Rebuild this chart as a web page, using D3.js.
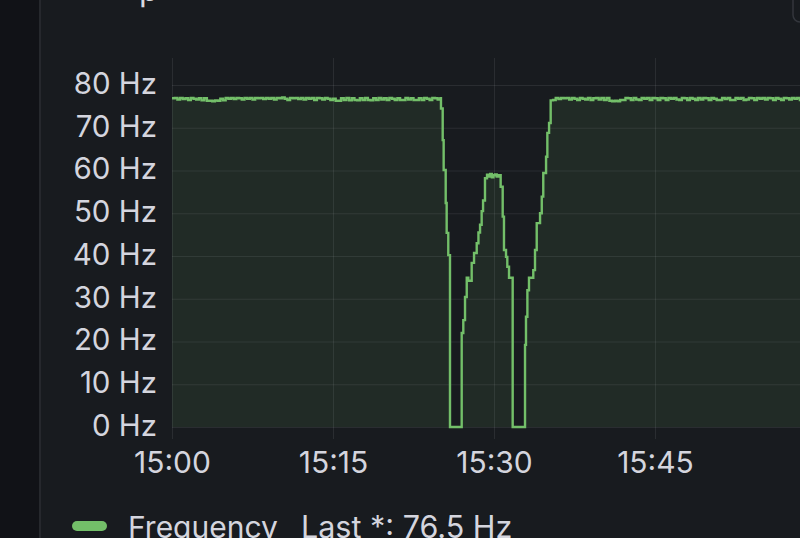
<!DOCTYPE html>
<html>
<head>
    <title>Frequency</title>
    <style>
        body { margin: 0; background: #181b1f; overflow: hidden; }
        text { font-family: Inter, "Open Sans", sans-serif; }
    </style>
    <script src="https://d3js.org/d3.v7.min.js"></script>
</head>
<body>
    <div id="chart"></div>

    <script>
        // minutes after 15:00, one sample every 15 s
        var leftStart = 0, sampleStep = 0.25;
        var leftValues = [
            76.9, 77.0, 76.6, 77.0, 76.7, 76.9, 76.5, 77.0, 76.8, 76.6,
            76.9, 76.4, 76.9, 76.3, 76.3, 76.2, 76.4, 76.3, 76.8, 76.4,
            77.0, 76.8, 77.0, 76.7, 77.0, 76.9, 76.6, 77.0, 76.8, 77.0,
            76.6, 77.0, 76.9, 77.0, 76.7, 77.0, 76.8, 77.0, 76.6, 77.0,
            76.9, 77.1, 76.8, 76.5, 77.0, 76.9, 77.0, 76.7, 77.0, 76.6,
            77.0, 76.8, 77.0, 76.5, 77.0, 76.9, 76.6, 77.0, 76.8, 76.5,
            76.8, 76.3, 76.3, 76.9, 76.5, 77.0, 76.4, 76.9, 76.5, 76.4,
            76.9, 76.5, 77.0, 76.5, 76.4, 76.9, 76.5, 77.0, 76.6, 76.9,
            76.5, 77.0, 76.8, 76.5, 76.9, 76.5, 76.5, 77.0, 76.6, 76.9,
            76.5, 76.5, 76.9, 76.5, 77.0, 76.8, 76.5, 77.0, 76.9, 76.6, 76.9
        ];

        // the ramp down / up section, irregular sample times (minutes after 15:00)
        var dipTimes = [
            25.06, 25.22, 25.31, 25.50, 25.59, 25.74, 25.90, 26.99, 27.14, 27.30,
            27.46, 27.61, 27.92, 28.14, 28.39, 28.55, 28.70, 28.85, 28.98, 29.16,
            29.35, 29.50, 29.65, 29.80, 29.95, 30.10, 30.25, 30.40, 30.62, 30.81,
            30.93, 31.12, 31.24, 31.40, 31.74, 32.89, 32.98, 33.11, 33.26, 33.66,
            33.82, 33.98, 34.29, 34.45, 34.59, 34.85, 34.97, 35.13, 35.28
        ];
        var dipValues = [
            74.5, 67.1, 60.1, 52.4, 45.4, 40.2, 0, 22.0, 25.0, 30.4,
            34.9, 34.2, 38.4, 40.7, 43.0, 45.5, 47.3, 50.5, 53.0, 58.2,
            59.0, 58.6, 59.2, 58.4, 58.9, 59.1, 58.6, 58.9, 56.2, 49.2,
            41.4, 39.8, 37.5, 34.9, 0, 19.2, 25.8, 32.0, 34.9, 36.7,
            41.4, 47.7, 50.0, 53.9, 59.4, 63.2, 68.8, 71.1, 76.4
        ];

        var rightStart = 35.5;
        var rightValues = [
            76.5, 77.0, 76.7, 77.0, 76.9, 77.0, 76.6, 77.0, 76.8, 76.5,
            77.0, 76.8, 76.6, 77.0, 76.5, 76.9, 77.0, 76.6, 77.0, 76.5,
            77.0, 76.3, 76.2, 76.3, 76.2, 76.5, 76.5, 77.0, 76.9, 76.5,
            77.0, 76.6, 76.5, 77.0, 76.8, 77.0, 76.5, 77.0, 76.9, 76.5,
            77.0, 76.9, 76.5, 77.0, 76.8, 77.0, 76.6, 76.5, 77.0, 76.9,
            76.5, 77.0, 76.8, 76.5, 77.0, 76.6, 77.0, 76.9, 76.5, 77.0,
            76.8, 76.5, 76.5, 77.0, 76.7, 77.0, 76.5, 76.5, 77.0, 76.8,
            77.0, 76.5, 76.6, 77.0, 76.9, 76.5, 77.0, 76.8, 77.0, 76.6,
            77.0, 76.9, 76.5, 77.0, 76.8, 76.5, 77.0, 76.9, 76.6, 77.0,
            76.8, 77.0, 76.5, 76.9
        ];

        var yTicks = [0, 10, 20, 30, 40, 50, 60, 70, 80];
        var xTickLabels = ['15:00', '15:15', '15:30', '15:45'];
        var legendName = 'Frequency';
        var legendCalc = 'Last *: 76.5 Hz';
        var titleText = 'p';

        var base = new Date(2024, 0, 1, 15, 0, 0);
        function at(min) { return new Date(base.getTime() + min * 60000); }

        var data = [];
        leftValues.forEach(function(v, i) { data.push({ t: at(leftStart + i * sampleStep), v: v }); });
        dipValues.forEach(function(v, i) { data.push({ t: at(dipTimes[i]), v: v }); });
        rightValues.forEach(function(v, i) { data.push({ t: at(rightStart + i * sampleStep), v: v }); });

        var W = 800, H = 538;
        var svg = d3.select('#chart').append('svg')
            .attr('width', W)
            .attr('height', H);

        // side strip + panel border
        svg.append('rect').attr('x', 0).attr('y', 0).attr('width', 39).attr('height', H).attr('fill', '#111217');
        svg.append('rect').attr('x', 39).attr('y', 0).attr('width', 2).attr('height', H).attr('fill', '#26282d');
        svg.append('rect').attr('x', 793).attr('y', -14).attr('width', 22).attr('height', 36).attr('rx', 7)
            .attr('fill', 'none').attr('stroke', '#33363c').attr('stroke-width', 1.5);

        // title, cut by the top edge
        svg.append('text').attr('x', 139).attr('y', 1).attr('font-size', 32)
            .attr('fill', '#d8d9e0').text(titleText);

        var plotTop = 58, plotBottom = 427;

        var x = d3.scaleTime()
            .domain([at(0), at(60)])
            .range([172, 816]);

        var y = d3.scaleLinear()
            .domain([0, 80])
            .range([427, 85]);

        var grid = 'rgba(204,204,220,0.1)';
        var fmt = d3.timeFormat('%H:%M');
        var xTicks = x.ticks(d3.timeMinute.every(15));
        var xLabelTicks = xTicks.filter(function(d) { return xTickLabels.indexOf(fmt(d)) >= 0; });

        // grid
        svg.append('g').selectAll('line.h')
            .data(yTicks).enter().append('line')
            .attr('x1', 172).attr('x2', W)
            .attr('y1', function(d) { return y(d) + 0.5; })
            .attr('y2', function(d) { return y(d) + 0.5; })
            .attr('stroke', grid);

        svg.append('g').selectAll('line.v')
            .data(xTicks).enter().append('line')
            .attr('x1', function(d) { return Math.round(x(d)) + 0.5; })
            .attr('x2', function(d) { return Math.round(x(d)) + 0.5; })
            .attr('y1', plotTop).attr('y2', plotBottom + 12)
            .attr('stroke', grid);

        // series
        var area = d3.area()
            .curve(d3.curveStepAfter)
            .x(function(d) { return x(d.t); })
            .y0(y(0))
            .y1(function(d) { return y(d.v); });

        var line = d3.line()
            .curve(d3.curveStepAfter)
            .x(function(d) { return x(d.t); })
            .y(function(d) { return y(d.v); });

        svg.append('path').datum(data)
            .attr('d', area)
            .attr('fill', '#73bf69')
            .attr('fill-opacity', 0.1);

        svg.append('path').datum(data)
            .attr('d', line)
            .attr('fill', 'none')
            .attr('stroke', '#73bf69')
            .attr('stroke-width', 2.4);

        // axes
        var yAxis = d3.axisLeft(y)
            .tickValues(yTicks)
            .tickSize(0)
            .tickPadding(0)
            .tickFormat(function(d) { return d + ' Hz'; });

        var gy = svg.append('g').attr('transform', 'translate(157,0)').call(yAxis);
        gy.select('.domain').remove();
        gy.selectAll('text')
            .attr('font-family', 'Inter, sans-serif')
            .attr('font-size', 29.5)
            .attr('fill', '#d4d5de')
            .attr('dy', '0.28em');

        var xAxis = d3.axisBottom(x)
            .tickValues(xLabelTicks)
            .tickSize(0)
            .tickPadding(0)
            .tickFormat(fmt);

        var gx = svg.append('g').attr('transform', 'translate(0,451)').call(xAxis);
        gx.select('.domain').remove();
        gx.selectAll('text')
            .attr('font-family', 'Inter, sans-serif')
            .attr('font-size', 30)
            .attr('fill', '#d4d5de')
            .attr('dy', '0.74em');

        // legend
        svg.append('rect').attr('x', 72).attr('y', 521).attr('width', 35).attr('height', 10).attr('rx', 5)
            .attr('fill', '#73bf69');
        svg.append('text').attr('x', 128).attr('y', 538).attr('font-size', 30)
            .attr('fill', '#d4d5de').text(legendName);
        svg.append('text').attr('x', 301).attr('y', 538).attr('font-size', 30.5)
            .attr('fill', '#d4d5de').text(legendCalc);
    </script>
</body>
</html>
